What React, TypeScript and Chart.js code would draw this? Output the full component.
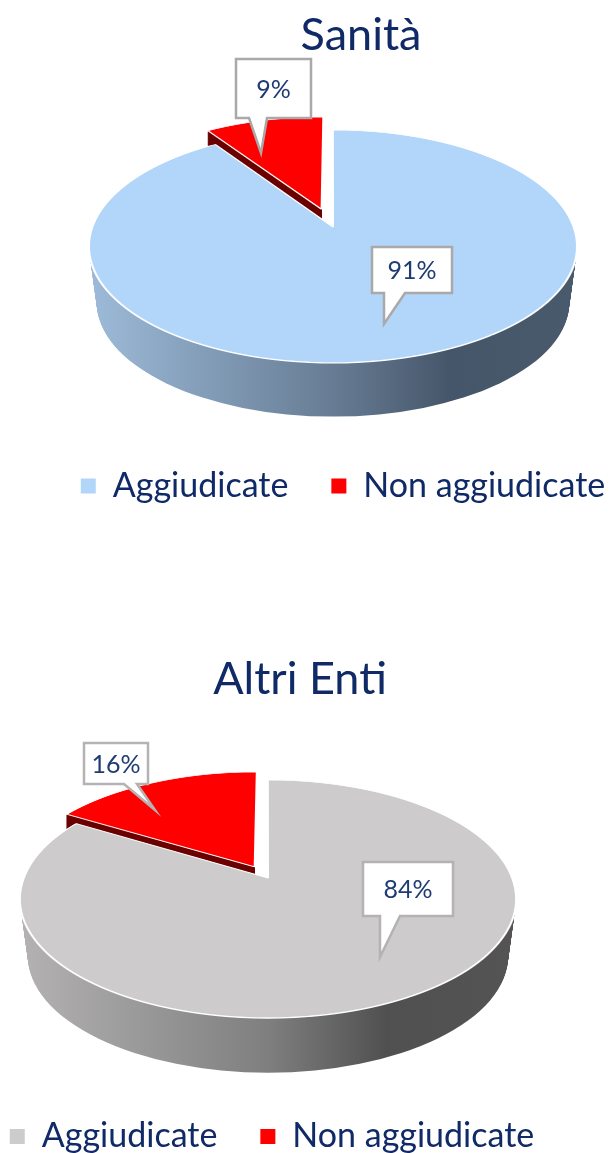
import React, { useEffect, useRef } from "react";
import { Chart, registerables } from "chart.js";

Chart.register(...registerables);

const categories = ["Aggiudicate", "Non aggiudicate"];
const sanitaValues = [90.6, 9.4];
const altriEntiValues = [83.6, 16.4];
const sanitaColors = ["#b2d6fa", "#ff0000"];
const altriEntiColors = ["#cdcbcb", "#ff0000"];

const FONT = "Lato, 'Open Sans', sans-serif";
const INK = "#0f2a66";
const LABEL_INK = "#1f3b73";

type Callout = { box: number[]; base: number[]; tip: number[] };
type Cfg = {
  title: string; values: number[]; colors: string[]; wall: [number, string][]; side: string;
  top: number; height: number; cx: number; cy: number; W: number; A: number; b: number;
  depth: number; explode: number; titleX: number; titleTop: number; legendX: number; legendY: number;
  callouts: Callout[]; calloutBorder: string;
};

const LEGEND_FONT = 34;
const LEGEND_PADDING = 43;

const charts: Cfg[] = [
  {
    title: "Sanità", values: sanitaValues, colors: sanitaColors,
    wall: [[0, "#9dbbd9"], [0.5, "#677c94"], [0.74, "#46566a"], [1, "#485a6c"]], side: "#6b0000",
    top: 0, height: 576, cx: 333, cy: 227, W: 244, A: 113.2, b: -0.167, depth: 56.5, explode: 41,
    titleX: 361, titleTop: 8, legendX: 343, legendY: 486,
    calloutBorder: "#a9a9a9",
    callouts: [
      { box: [372, 247, 452, 293], base: [384, 405], tip: [384, 324] },
      { box: [236, 59, 311, 118], base: [249, 267], tip: [261, 153] },
    ],
  },
  {
    title: "Altri Enti", values: altriEntiValues, colors: altriEntiColors,
    wall: [[0, "#b4b2b2"], [0.5, "#7f7f7f"], [0.74, "#505050"], [1, "#545454"]], side: "#6b0000",
    top: 576, height: 577, cx: 268, cy: 302, W: 248, A: 115.3, b: -0.1765, depth: 57.5, explode: 28,
    titleX: 300, titleTop: 76, legendX: 272, legendY: 560.5,
    calloutBorder: "#b4b2b2",
    callouts: [
      { box: [363, 286, 453, 340], base: [380, 400], tip: [380, 381] },
      { box: [84, 167, 148, 208], base: [124, 137], tip: [155, 234] },
    ],
  },
];

const chartWidth = 611;

function drawProjected(ctx: any, c: Cfg, arc: any, explode: number, shift: number, yMin: number, yMax: number) {
  const R = arc.outerRadius;
  const kappa = (c.W * Math.sqrt(1 - c.b * c.b)) / R;
  const mid = (arc.startAngle + arc.endAngle) / 2;
  for (let Y = yMin; Y < yMax; Y++) {
    const dy = Y + 0.5 - arc.y;
    const v = dy / (c.A - c.b * dy);
    const f = 1 / (1 + c.b * v);
    const sx = kappa * f;
    const sy = (c.A * f * f) / R;
    ctx.save();
    ctx.translate(0, shift);
    ctx.beginPath();
    ctx.rect(0, Y, chartWidth, 1);
    ctx.clip();
    ctx.transform(sx, 0, 0, sy, arc.x - arc.x * sx, arc.y + dy - (arc.y + v * R) * sy);
    ctx.translate(Math.cos(mid) * explode, Math.sin(mid) * explode);
    arc.draw(ctx);
    ctx.restore();
  }
}

function makePlugin(c: Cfg) {
  return {
    id: "tilted",
    afterLayout(chart: any) {
      const R = c.W;
      chart.chartArea = { left: c.cx - R, right: c.cx + R, top: c.cy - R, bottom: c.cy + R, width: 2 * R, height: 2 * R };
      const t = chart.titleBlock;
      const tw = t.right - t.left;
      t.left = c.titleX - tw / 2; t.right = c.titleX + tw / 2;
      const th = t.bottom - t.top;
      t.top = c.titleTop; t.bottom = c.titleTop + th;
      const l = chart.legend;
      const lw = l.right - l.left, lh = l.bottom - l.top;
      l.left = c.legendX - lw / 2; l.right = c.legendX + lw / 2;
      l.top = c.legendY - LEGEND_PADDING - LEGEND_FONT / 2; l.bottom = l.top + lh;
    },
    beforeDatasetsDraw(chart: any) {
      const ctx = chart.ctx;
      const [main, cut] = chart.getDatasetMeta(0).data;
      const yTop = c.cy - c.A / (1 - c.b);
      const yBot = c.cy + c.A / (1 + c.b);
      const yMid = (yTop + yBot) / 2;
      const ry = (yBot - yTop) / 2;
      // side wall of the disc
      const g = ctx.createLinearGradient(c.cx - c.W, 0, c.cx + c.W, 0);
      c.wall.forEach(([p, col]) => g.addColorStop(p, col));
      ctx.save();
      ctx.beginPath();
      ctx.rect(0, yMid, chartWidth, 1000);
      ctx.clip();
      ctx.fillStyle = g;
      for (let d = 0; d <= c.depth; d++) {
        const t = d / c.depth;
        ctx.beginPath();
        ctx.ellipse(c.cx, yMid + d, c.W * (1 - 0.032 * t), ry * (1 - 0.02 * t), 0, 0, Math.PI * 2);
        ctx.fill();
      }
      ctx.restore();
      const rows = [Math.floor(c.cy - (c.A * 1.3) / (1 - 1.3 * c.b)), Math.ceil(yBot) + 2];
      // side of the pulled-out slice: runs behind the main slice, stops at the slice's tip
      const mid = (cut.startAngle + cut.endAngle) / 2;
      const tipV = (Math.sin(mid) * c.explode) / cut.outerRadius;
      const kappa = (c.W * Math.sqrt(1 - c.b * c.b)) / cut.outerRadius;
      const tipX = cut.x + (Math.cos(mid) * c.explode * kappa) / (1 + c.b * tipV);
      const opts = cut.options;
      cut.options = { ...opts, backgroundColor: c.side, borderColor: c.side };
      ctx.save();
      ctx.beginPath();
      ctx.rect(0, 0, tipX, chart.height);
      ctx.clip();
      for (let s = 14; s >= 1; s--) drawProjected(ctx, c, cut, c.explode, s, rows[0], Math.ceil(c.cy) + 4);
      ctx.restore();
      cut.options = opts;
      drawProjected(ctx, c, main, 0, 0, rows[0], rows[1]);
      drawProjected(ctx, c, cut, c.explode, 0, rows[0], Math.ceil(c.cy) + 4);
      return false;
    },
    afterDraw(chart: any) {
      const ctx = chart.ctx;
      c.callouts.forEach((o, i) => {
        const [x0, y0, x1, y1] = o.box;
        ctx.save();
        ctx.beginPath();
        ctx.moveTo(x0, y0);
        ctx.lineTo(x1, y0);
        ctx.lineTo(x1, y1);
        ctx.lineTo(o.base[1], y1);
        ctx.lineTo(o.tip[0], o.tip[1]);
        ctx.lineTo(o.base[0], y1);
        ctx.lineTo(x0, y1);
        ctx.closePath();
        ctx.fillStyle = "#ffffff";
        ctx.fill();
        ctx.strokeStyle = c.calloutBorder;
        ctx.lineWidth = 2.5;
        ctx.lineJoin = "miter";
        ctx.stroke();
        ctx.fillStyle = LABEL_INK;
        ctx.font = `25px ${FONT}`;
        ctx.textAlign = "center";
        ctx.textBaseline = "middle";
        ctx.fillText(`${Math.round(c.values[i])}%`, (x0 + x1) / 2, (y0 + y1) / 2 + 1);
        ctx.restore();
      });
    },
  };
}

function PieCanvas({ cfg }: { cfg: Cfg }) {
  const ref = useRef<HTMLCanvasElement>(null);
  useEffect(() => {
    const baseLabels = (Chart as any).overrides.doughnut.plugins.legend.labels.generateLabels;
    const chart = new Chart(ref.current as HTMLCanvasElement, {
      type: "pie",
      data: {
        labels: categories,
        datasets: [{
          data: cfg.values,
          backgroundColor: cfg.colors,
          borderColor: "#ffffff",
          borderWidth: 2,
          clip: false,
        } as any],
      },
      options: {
        responsive: false,
        maintainAspectRatio: false,
        animation: false,
        devicePixelRatio: 1,
        radius: cfg.W,
        plugins: {
          title: { display: true, text: cfg.title, color: INK, font: { family: FONT, size: 45, weight: "normal" }, padding: 0 },
          legend: {
            position: "bottom",
            labels: {
              color: INK,
              font: { family: FONT, size: LEGEND_FONT },
              boxWidth: 15,
              boxHeight: 15,
              padding: LEGEND_PADDING,
              generateLabels: (ch: any) =>
                baseLabels(ch).map((it: any) => ({ ...it, lineWidth: 0, strokeStyle: "rgba(0,0,0,0)" })),
            },
          },
          tooltip: { enabled: false },
        },
      } as any,
      plugins: [makePlugin(cfg)],
    });
    return () => chart.destroy();
  }, [cfg]);
  return (
    <canvas
      ref={ref}
      width={chartWidth}
      height={cfg.height}
      style={{ position: "absolute", left: 0, top: cfg.top, display: "block" }}
    />
  );
}

export default function App() {
  return (
    <div style={{ position: "absolute", left: 0, top: 0, width: 611, height: 1153, overflow: "hidden", background: "#ffffff" }}>
      {charts.map((c) => <PieCanvas key={c.title} cfg={c} />)}
    </div>
  );
}
